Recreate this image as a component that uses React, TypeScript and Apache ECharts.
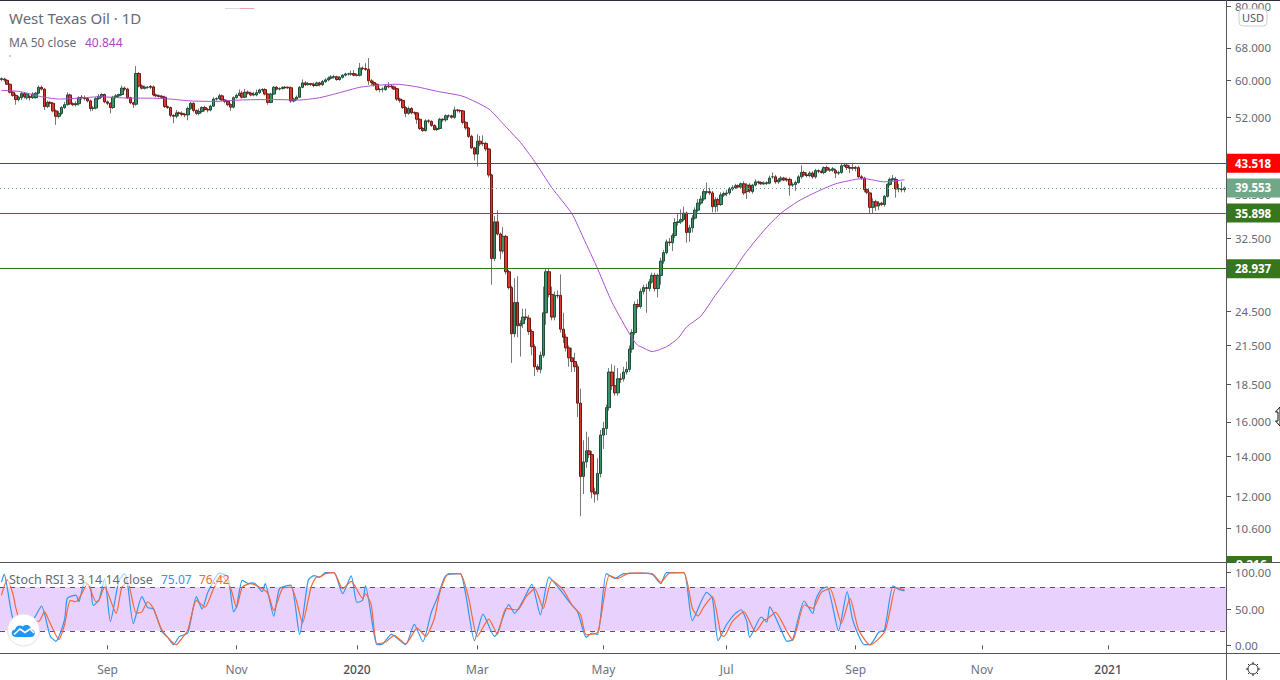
import React, { useEffect, useRef } from "react";
import * as echarts from "echarts";

const opens = [
  60.2,60.3,60.0,59.1,57.3,56.6,55.7,56.1,57.0,56.1,
  56.3,56.1,56.1,57.1,58.4,58.0,54.2,55.1,54.9,53.3,
  52.2,52.8,54.0,54.6,56.7,54.8,54.6,54.8,56.2,56.1,
  55.9,55.4,53.8,53.9,55.9,56.4,56.8,55.2,54.9,54.0,
  56.2,56.5,56.8,58.2,58.0,56.1,55.0,54.7,61.6,58.7,
  58.2,58.4,58.6,58.5,56.7,56.5,56.4,56.2,54.2,54.0,
  52.4,52.2,52.9,52.8,52.6,52.5,53.8,54.9,53.4,52.8,
  53.2,54.0,53.6,53.5,54.3,55.8,55.9,56.5,55.6,55.3,
  54.6,54.1,56.1,56.6,57.1,56.2,57.3,57.1,56.7,56.7,
  57.2,57.8,57.9,56.9,55.1,56.9,58.4,58.0,58.1,58.4,
  58.4,58.3,55.4,55.8,56.2,58.4,59.4,59.0,59.2,59.1,
  58.8,59.4,59.0,59.7,60.1,60.5,60.8,60.8,60.2,60.7,
  61.2,61.5,61.5,61.6,61.2,61.2,62.9,62.8,62.6,59.9,
  59.5,59.1,57.9,58.0,57.9,58.7,58.7,58.5,58.1,55.8,
  55.5,54.0,52.8,53.8,53.0,52.9,51.6,49.8,49.4,51.3,
  51.2,50.4,49.6,49.8,51.6,51.5,52.3,52.3,52.0,53.5,
  53.4,53.3,51.0,49.9,48.3,46.2,45.1,47.4,47.0,47.0,
  46.0,41.6,30.1,34.7,33.1,31.0,32.8,28.6,26.9,22.5,
  25.4,23.2,23.4,24.0,23.9,22.7,21.4,19.8,19.6,20.7,
  24.4,28.6,26.2,24.0,26.1,26.1,22.9,22.2,21.3,20.5,
  20.2,19.8,17.2,12.95,13.7,14.3,14.1,12.2,12.1,13.1,
  15.2,15.6,16.9,19.4,18.4,17.9,18.9,18.9,19.4,19.6,
  21.2,22.6,25.2,25.0,26.5,26.9,26.8,27.5,28.2,26.8,
  28.2,29.8,30.8,32.1,32.0,32.9,34.6,34.7,35.0,35.9,
  33.3,33.9,35.2,36.3,37.3,37.9,38.9,39.0,38.8,36.8,
  37.8,37.1,38.5,38.7,38.8,39.4,39.6,39.9,39.7,40.2,
  39.0,40.0,39.0,40.0,40.5,40.4,40.2,40.3,40.3,41.3,
  41.3,40.5,40.8,41.1,40.9,40.9,40.0,40.1,40.4,41.3,
  42.0,41.6,41.5,41.9,41.3,42.3,42.2,42.0,42.8,42.4,
  42.4,42.3,41.9,42.0,43.1,43.2,42.8,42.7,42.8,42.8,
  41.3,41.1,39.3,38.8,36.7,37.5,36.9,37.3,37.1,38.3,
  40.1,40.9,40.9,39.4,39.4,39.3,
];
const closes = [
  60.4,60.1,59.1,57.3,56.6,55.7,56.2,57.0,56.3,56.9,
  56.2,56.9,57.1,58.4,58.0,54.2,55.1,54.9,53.3,52.2,
  52.8,54.0,54.6,56.7,54.8,54.6,54.8,56.1,56.1,55.9,
  55.4,53.8,53.9,55.9,56.4,56.8,55.2,54.9,54.0,56.2,
  56.5,56.8,58.2,58.0,56.1,55.0,54.7,61.6,58.7,58.2,
  58.4,58.4,58.4,56.7,56.5,56.4,56.2,54.2,54.0,52.4,
  52.2,52.9,52.8,52.6,52.5,53.8,54.9,53.4,52.8,53.2,
  54.0,53.6,53.5,54.3,55.8,55.9,56.5,55.6,55.3,54.6,
  54.1,56.1,56.6,57.1,56.2,57.3,57.1,56.7,56.9,57.2,
  57.8,57.9,56.9,55.1,56.9,58.4,58.0,58.1,58.4,58.3,
  58.3,55.4,55.8,56.2,58.4,59.4,59.0,59.2,59.1,58.8,
  59.4,59.0,59.7,60.1,60.5,60.8,60.8,60.2,60.7,61.2,
  61.5,61.5,61.5,61.2,61.2,62.9,62.8,62.6,59.9,59.5,
  59.1,57.9,57.9,58.0,58.7,58.5,58.5,58.0,55.8,55.5,
  54.0,52.8,53.8,52.9,52.9,51.6,49.8,49.4,51.3,51.2,
  50.4,49.6,49.8,51.6,51.5,52.3,52.3,52.0,53.5,53.4,
  53.3,51.0,49.9,48.3,46.2,45.1,47.4,46.9,47.0,46.0,
  41.6,30.1,34.7,33.1,31.0,32.8,28.6,26.9,22.5,25.4,
  23.2,23.4,24.0,23.95,22.7,21.4,19.8,19.6,20.7,24.4,
  28.6,26.2,24.0,26.1,26.05,22.9,22.2,21.3,20.5,20.2,
  19.8,17.2,12.95,13.7,14.3,14.1,12.2,12.1,13.1,15.2,
  15.6,16.9,19.4,18.4,17.9,18.9,18.85,19.4,19.6,21.2,
  22.6,25.2,25.0,26.5,26.9,26.8,27.5,28.2,26.8,28.2,
  29.8,30.8,32.1,32.0,32.9,34.6,34.7,35.0,35.9,33.3,
  33.9,35.2,36.3,37.3,37.9,39.0,39.0,38.8,36.8,37.8,
  37.1,38.5,38.7,38.8,39.4,39.6,39.9,39.7,40.2,38.8,
  40.0,39.1,40.0,40.5,40.4,40.2,40.3,40.35,41.1,41.3,
  40.5,40.8,41.1,40.8,40.8,40.0,40.1,40.4,41.3,42.0,
  41.6,41.5,41.9,41.3,42.3,42.2,42.0,42.8,42.4,42.4,
  42.6,41.9,42.0,43.1,43.2,42.8,42.7,42.8,42.7,41.3,
  41.1,39.3,38.9,36.7,37.5,36.9,37.3,37.1,38.3,40.1,
  40.9,41.0,39.4,39.45,39.3,39.553,
];
const lows = [
  59.8,59.7,58.9,57.0,56.3,54.6,55.3,55.6,55.9,55.7,
  55.5,55.8,55.9,56.9,57.7,53.5,53.9,54.1,53.0,50.5,
  51.8,52.5,53.7,54.4,54.5,54.3,54.2,54.4,55.7,55.5,
  55.1,53.2,53.3,53.6,55.6,56.0,54.9,54.5,52.8,53.7,
  55.9,56.2,56.5,57.6,55.8,54.7,53.9,54.4,58.4,57.9,
  57.9,58.1,58.0,56.4,56.2,56.1,55.9,53.9,53.7,52.0,
  50.8,51.8,52.2,52.2,52.0,51.4,53.5,53.0,52.5,52.4,
  52.9,53.2,53.0,53.2,54.1,55.5,55.6,55.4,54.9,54.3,
  53.3,53.8,55.9,56.4,55.9,56.0,56.8,56.4,56.4,56.4,
  56.9,57.4,56.6,54.6,54.9,56.7,57.7,57.7,57.9,58.0,
  58.0,55.0,55.1,55.5,56.0,58.2,58.7,58.8,58.7,58.4,
  58.6,58.6,58.7,59.4,59.8,60.2,60.4,59.9,59.9,60.4,
  60.9,61.1,61.1,60.9,60.9,60.9,62.4,62.2,59.0,58.9,
  58.6,57.6,57.3,57.3,57.6,58.2,58.1,57.8,55.4,55.0,
  53.7,52.0,52.5,52.6,52.5,50.7,49.5,49.1,49.2,50.8,
  50.1,49.4,49.3,49.6,51.1,51.1,51.9,51.7,51.7,53.0,
  52.9,50.6,49.5,48.0,46.0,44.0,43.0,46.5,46.5,45.6,
  41.2,27.2,29.8,32.9,30.0,30.7,28.3,26.7,20.1,22.2,
  22.2,20.6,23.0,23.7,22.4,20.7,19.1,19.4,19.3,20.5,
  23.3,25.9,23.7,23.7,25.8,22.6,21.7,21.0,19.8,19.4,
  19.4,16.3,11.1,12.1,13.4,13.9,11.9,11.7,11.8,12.9,
  14.4,15.2,16.7,18.1,17.7,17.7,18.6,18.7,19.2,19.4,
  20.9,22.4,24.8,24.8,26.2,24.4,26.5,27.3,26.5,25.9,
  27.2,29.5,30.6,31.6,31.0,32.6,34.2,34.4,34.8,32.0,
  32.1,33.3,35.0,36.0,37.0,37.6,38.6,38.5,36.0,36.0,
  36.1,36.9,38.2,38.3,38.5,39.1,39.4,39.5,39.4,38.5,
  37.9,38.8,38.7,39.8,40.1,40.0,40.0,40.0,40.1,41.0,
  40.2,40.2,40.5,40.6,40.5,38.4,39.7,39.1,40.2,41.0,
  41.3,41.2,41.2,41.0,41.0,41.9,41.8,41.7,42.1,42.1,
  42.1,41.1,41.6,41.8,42.9,42.4,41.9,42.3,42.2,41.1,
  40.8,38.9,38.6,35.8,35.8,36.2,36.3,36.9,36.8,38.1,
  39.9,40.6,38.1,38.9,38.9,38.9,
];
const highs = [
  60.7,60.6,60.3,59.3,57.5,57.0,56.5,57.4,57.2,57.1,
  56.7,57.3,57.4,58.8,58.8,58.2,55.5,55.4,55.2,53.6,
  53.3,54.3,55.2,57.3,57.0,55.1,55.3,56.4,56.7,56.6,
  56.2,55.7,54.3,56.2,56.9,57.1,57.0,55.5,55.1,56.5,
  56.9,57.0,58.8,58.6,58.3,56.3,55.2,63.4,62.0,59.1,
  58.8,58.7,58.9,58.8,57.0,56.8,56.7,56.5,54.4,54.2,
  52.6,53.5,53.2,53.2,52.9,54.2,55.2,55.1,53.6,53.8,
  54.3,54.4,53.9,54.6,56.2,56.2,57.0,56.8,55.8,55.5,
  54.9,56.4,57.0,57.9,57.6,58.0,57.7,57.4,57.4,57.9,
  58.1,58.2,58.2,57.1,57.2,58.7,58.7,58.4,58.6,58.7,
  58.6,58.6,56.1,56.6,58.7,60.2,59.8,59.6,59.4,59.5,
  59.7,59.7,60.1,60.5,60.9,61.2,61.3,61.1,61.0,61.5,
  61.8,61.8,62.3,62.4,61.6,64.2,63.3,64.1,65.4,60.3,
  59.9,59.3,58.3,58.4,59.0,59.6,59.1,58.8,58.3,56.1,
  55.7,54.3,54.2,54.1,53.2,53.1,51.8,50.1,51.6,51.6,
  51.4,50.6,50.2,51.9,51.8,52.6,52.6,52.5,54.2,53.7,
  53.6,53.5,51.2,50.1,48.6,46.4,48.7,48.4,48.5,47.3,
  46.2,41.8,35.5,36.3,33.3,34.0,33.0,28.8,27.1,27.9,
  28.1,23.7,24.8,24.8,24.2,22.9,21.6,20.0,21.0,27.0,
  29.0,28.9,27.0,26.5,26.6,28.3,24.4,22.5,21.5,21.3,
  20.9,20.0,18.2,14.9,15.4,15.1,14.3,12.4,13.9,15.5,
  16.0,17.1,19.7,20.0,19.9,19.7,19.3,19.8,20.2,21.5,
  22.9,25.5,25.7,26.8,27.2,27.3,27.8,28.5,28.5,28.4,
  30.2,31.1,32.4,32.6,33.2,35.2,35.9,36.4,36.8,36.1,
  34.3,35.6,36.7,37.9,38.4,39.4,40.4,39.6,39.1,38.2,
  38.1,38.9,39.0,39.3,39.7,40.0,40.2,40.1,40.4,40.6,
  40.3,40.3,40.2,40.9,40.7,40.6,40.6,40.6,41.5,42.0,
  41.6,41.1,41.4,41.3,41.2,41.2,40.4,40.7,41.6,43.2,
  42.3,42.0,42.2,42.2,42.6,42.5,42.5,43.0,43.1,42.8,
  42.9,42.6,42.3,43.5,43.6,43.5,43.2,43.6,43.1,43.1,
  41.6,41.3,39.5,39.0,38.0,37.8,37.6,37.5,38.5,40.3,
  41.2,41.6,41.3,40.2,40.5,39.8,
];

const maBars = [0,6,14,20,27,34,45,52,59,66,74,83,94,104,111,118,125,131,138,145,152,161,170,175,181,186,192,199,203,208,213,220,222,223,227,232,236,239,244,249,256,259,264,268,272,278,285,291,298,301,308,315];
const maValues = [57.7,57.5,56.3,55.8,56.0,56.3,56.0,56.0,55.8,55.4,55.3,55.6,55.7,55.6,56.1,57.2,58.4,58.85,59.1,58.5,57.5,56.4,53.7,50.7,47.2,43.8,39.6,35.8,32.6,28.9,25.4,22.1,21.5,21.4,21.0,21.4,22.1,23.1,24.1,26.1,29.0,30.5,32.7,34.4,35.9,37.6,39.1,40.2,40.9,41.0,40.5,40.844];

const kBars = [0,1,2,4,7,11,14,17,19,22,23,26,27,29,31,32,34,36,38,41,43,44,46,49,51,53,56,58,60,62,65,68,70,72,76,79,81,82,84,86,88,91,92,95,97,101,104,107,109,111,113,116,119,122,124,126,127,130,131,133,136,141,144,147,150,152,155,160,162,165,168,172,173,177,179,182,185,188,191,195,198,201,204,206,208,211,214,217,223,227,230,232,238,241,246,248,250,253,256,258,260,261,265,267,268,272,274,276,280,283,284,286,288,292,295,297,301,303,306,308,311,313,315];
const kValues = [87,98,80,37,25,35,54,13,5.5,35,65,69,60,87,80,55,62,92,33,89,98.6,85,30,67,52,50,19,11,1,12,17,67,50,73,99.5,94,46,53,89.5,85,86,74,85,40,78,83,15,89.5,96,94,100,100,71,95.5,59,62,82,15,1,2,15,1,29,5,46,65,96,98.6,69,6.5,43,12,17,56,44,62,84,42,94,76,60,46,11,17,15,98.6,92,98.6,99.5,97.7,85,100,100,34,73,65,6.5,29,44,49,33,11,39,32,53,21,5.6,8,61,44,62,77,80.5,20,74,34,1,1,18,21,82,77,75.07];

const dBars = [0,2,4,6,13,15,17,20,22,24,26,28,30,33,34,36,40,42,44,47,49,51,53,56,61,63,65,68,71,74,77,80,82,84,87,91,93,95,98,101,103,105,108,110,111,113,116,119,122,126,127,129,131,134,137,141,145,148,151,153,156,160,163,166,170,173,176,180,183,186,189,192,196,199,202,204,208,212,215,219,223,227,230,233,238,241,243,245,248,251,252,255,259,263,266,267,270,274,276,280,283,286,289,293,296,299,303,308,310,312,315];
const dValues = [69,90,71,40,33,46,30.5,8,28,62,60,71,85,60,62,80,44,80,87,44,46,60,51,21,1,10,21,62,52.5,78,95,78,52,80,85,78,71,48,78,80,60,30.5,80,94,94,98.6,100,78,88,64.6,71,55.5,2,4.7,13.7,2,23.7,12.4,37,74,98.6,98.6,64.6,12.4,36,15.5,51,48.7,67,78,51,89.6,76,55.5,42,14.6,18,96.4,92,99.5,99.5,98.6,87,99.5,100,51,40.5,53,67,14.6,12.4,33,46,19,35,36,45.5,19,7,55.5,51,73,78,30.5,64.6,21.4,0.5,18,48.7,79.6,76.42];

const priceTicks = [80, 68, 60, 52, 44, 38.5, 32.5, 28.5, 24.5, 21.5, 18.5, 16, 14, 12, 10.6];
const rsiTicks = [0, 50, 100];
const levels = [43.518, 35.898, 28.937];
const levelColors = ["#e01010", "#38761d", "#38761d"];
const levelBoxes = ["#ff0000", "#38761d", "#38761d"];
const lastPrice = 39.553;
const timeTickBars = [37, 82, 124, 166, 210, 253, 298, 342, 386];
const timeTickLabels = ["Sep", "Nov", "2020", "Mar", "May", "Jul", "Sep", "Nov", "2021"];
const barSlots = 428;

const FONT = "'Noto Sans', sans-serif";

echarts.graphic.registerShape(
  "tvcloud",
  echarts.graphic.extendPath(
    "M16 637 C11 637 10 630 15 629.5 C16 625.5 20 624.5 23 626.5 C26 623.5 31 625.5 31 629.5 C36 629.5 36 637 31 637 Z",
    {}
  )
);

export default function App() {
  const ref = useRef<HTMLDivElement>(null);
  useEffect(() => {
    document.body.style.margin = "0";
    const chart = echarts.init(ref.current!, null, { renderer: "svg", width: 1280, height: 680 });
    const categories = Array.from({ length: barSlots }, (_, i) => String(i));
    const wickData = opens.map((o, i) => [o, closes[i], lows[i], highs[i]]);
    const bodyData = opens.map((o, i) => [o, closes[i], Math.min(o, closes[i]), Math.max(o, closes[i])]);
    const isTimeTick = (i: number) => timeTickBars.includes(i);
    const levelLines = levels.map((v, i) => ({
      yAxis: v,
      lineStyle: { color: levelColors[i], width: 1, type: "solid" },
      label: { backgroundColor: levelBoxes[i] },
    }));
    const line = (x1: number, y1: number, x2: number, y2: number, stroke: string, width = 1, z = 60) => ({
      type: "line",
      shape: { x1, y1, x2, y2 },
      style: { stroke, lineWidth: width },
      z,
      silent: true,
    });
    const gearRays = [
      [1253, 662, 1253, 664], [1253, 674, 1253, 676], [1246, 669, 1248, 669], [1258, 669, 1260, 669],
      [1248, 664, 1249.5, 665.5], [1256.5, 672.5, 1258, 674], [1258, 664, 1256.5, 665.5], [1249.5, 672.5, 1248, 674],
    ];
    const option: any = {
      animation: false,
      backgroundColor: "#ffffff",
      textStyle: { fontFamily: FONT },
      grid: [
        { left: 0, top: 1, width: 1227, height: 561, containLabel: false },
        { left: 0, top: 563, width: 1227, height: 90, containLabel: false },
      ],
      xAxis: [
        {
          type: "category",
          gridIndex: 0,
          data: categories,
          boundaryGap: true,
          axisLine: { show: false },
          axisTick: { show: false },
          axisLabel: { show: false },
          splitLine: { show: false },
        },
        {
          type: "category",
          gridIndex: 1,
          data: categories,
          boundaryGap: true,
          axisLine: { show: false },
          axisTick: {
            show: true,
            length: 4,
            alignWithLabel: true,
            interval: (i: number) => isTimeTick(i),
            lineStyle: { color: "#555" },
          },
          axisLabel: {
            show: true,
            margin: 10,
            hideOverlap: false,
            interval: (i: number) => isTimeTick(i),
            formatter: (v: string) => {
              const label = timeTickLabels[timeTickBars.indexOf(Number(v))];
              return label.startsWith("20") ? `{y|${label}}` : `{m|${label}}`;
            },
            rich: {
              y: { color: "#4a4e58", fontSize: 12, fontFamily: FONT, fontWeight: 500 },
              m: { color: "#6e727c", fontSize: 12, fontFamily: FONT },
            },
          },
          splitLine: { show: false },
        },
      ],
      yAxis: [
        {
          type: "log",
          logBase: Math.E,
          gridIndex: 0,
          position: "right",
          min: 9.3,
          max: 81.5,
          axisLine: { show: false },
          axisTick: { show: true, length: 4, customValues: priceTicks, lineStyle: { color: "#555" } },
          axisLabel: {
            show: true,
            margin: 8,
            customValues: priceTicks,
            color: "#666a74",
            fontSize: 11.5,
            fontFamily: FONT,
            hideOverlap: false,
            formatter: (v: number) => Number(v).toFixed(3),
          },
          splitLine: { show: false },
          minorSplitLine: { show: false },
        },
        {
          type: "value",
          gridIndex: 1,
          position: "right",
          min: -10.5,
          max: 113.3,
          axisLine: { show: false },
          axisTick: { show: true, length: 4, customValues: rsiTicks, lineStyle: { color: "#555" } },
          axisLabel: {
            show: true,
            margin: 8,
            customValues: rsiTicks,
            color: "#666a74",
            fontSize: 11.5,
            fontFamily: FONT,
            hideOverlap: false,
            formatter: (v: number) => Number(v).toFixed(2),
          },
          splitLine: { show: false },
        },
      ],
      series: [
        {
          type: "candlestick",
          name: "wicks",
          xAxisIndex: 0,
          yAxisIndex: 0,
          data: wickData,
          barWidth: 1,
          itemStyle: { color: "#787878", color0: "#787878", borderColor: "#787878", borderColor0: "#787878", borderWidth: 1 },
          silent: true,
          z: 2,
        },
        {
          type: "candlestick",
          name: "West Texas Oil",
          xAxisIndex: 0,
          yAxisIndex: 0,
          data: bodyData,
          barWidth: 3,
          itemStyle: { color: "#3e8f6b", color0: "#d83a2d", borderColor: "#1d4f37", borderColor0: "#6e1a14", borderWidth: 1 },
          silent: true,
          z: 3,
          markLine: {
            silent: true,
            symbol: "none",
            animation: false,
            precision: 3,
            z: 8,
            label: {
              show: true,
              position: "end",
              distance: 0,
              color: "#ffffff",
              fontSize: 11.5,
              fontWeight: "bold",
              fontFamily: FONT,
              padding: [3, 8, 3, 8],
              lineHeight: 13,
              width: 37,
              formatter: (p: any) => Number(p.value).toFixed(3),
            },
            data: [
              ...levelLines,
              {
                yAxis: lastPrice,
                lineStyle: { color: "#6ca584", width: 1, type: [1, 3] },
                label: { backgroundColor: "#6fa886" },
              },
            ],
          },
        },
        {
          type: "line",
          name: "MA 50 close",
          xAxisIndex: 0,
          yAxisIndex: 0,
          data: maBars.map((b, i) => [b, maValues[i]]),
          showSymbol: false,
          smooth: 0.2,
          lineStyle: { color: "#ad4fcf", width: 1 },
          silent: true,
          z: 5,
        },
        {
          type: "line",
          name: "K",
          xAxisIndex: 1,
          yAxisIndex: 1,
          data: kBars.map((b, i) => [b, kValues[i]]),
          showSymbol: false,
          smooth: 0.2,
          lineStyle: { color: "#2f97f3", width: 1.2 },
          silent: true,
          z: 5,
          markArea: {
            silent: true,
            itemStyle: { color: "#e9d1fd" },
            data: [[{ yAxis: 20 }, { yAxis: 80 }]],
          },
          markLine: {
            silent: true,
            symbol: "none",
            label: { show: false },
            lineStyle: { color: "#5f4b6e", width: 1, type: [5, 5] },
            data: [{ yAxis: 80 }, { yAxis: 20 }],
          },
        },
        {
          type: "line",
          name: "D",
          xAxisIndex: 1,
          yAxisIndex: 1,
          data: dBars.map((b, i) => [b, dValues[i]]),
          showSymbol: false,
          smooth: 0.2,
          lineStyle: { color: "#f4683a", width: 1.2 },
          silent: true,
          z: 6,
        },
      ],
      graphic: [
        line(0, 0.5, 1280, 0.5, "#2a2e39", 1),
        line(0, 562.5, 1280, 562.5, "#555", 1),
        line(0, 653.5, 1280, 653.5, "#555", 1),
        line(1226.5, 0, 1226.5, 680, "#555", 1, 70),
        { type: "rect", shape: { x: 1227, y: 556, width: 45, height: 6 }, style: { fill: "#38761d" }, z: 60, silent: true },
        { type: "text", x: 1236, y: 558, style: { text: "9.216", fill: "#fff", font: `bold 12px ${FONT}` }, z: 61, silent: true },
        { type: "rect", shape: { x: 1227, y: 563, width: 53, height: 4 }, style: { fill: "#fff" }, z: 62, silent: true },
        { type: "rect", shape: { x: 1239, y: 9, width: 28, height: 17, r: 4 }, style: { fill: "#fff", stroke: "#cfcfcf", lineWidth: 1 }, z: 90, silent: true },
        { type: "text", x: 1253, y: 17.5, style: { text: "USD", fill: "#555", font: `11px ${FONT}`, align: "center", verticalAlign: "middle" }, z: 91, silent: true },

        { type: "text", x: 9, y: 18, style: { text: "West Texas Oil · 1D", fill: "#666a74", font: `15px ${FONT}`, verticalAlign: "middle" }, z: 80, silent: true },
        { type: "text", x: 9, y: 42, style: { text: "MA 50 close", fill: "#666a74", font: `12px ${FONT}`, verticalAlign: "middle" }, z: 80, silent: true },
        { type: "text", x: 85, y: 42, style: { text: "40.844", fill: "#ab47bc", font: `12px ${FONT}`, verticalAlign: "middle" }, z: 80, silent: true },
        { type: "rect", shape: { x: 225, y: 8, width: 15, height: 1 }, style: { fill: "#d8d8e0" }, z: 80, silent: true },
        { type: "rect", shape: { x: 240, y: 8, width: 14, height: 1 }, style: { fill: "#eea0c0" }, z: 80, silent: true },
        { type: "rect", shape: { x: 9, y: 55, width: 2, height: 2 }, style: { fill: "#d0d0d0" }, z: 80, silent: true },

        { type: "rect", shape: { x: 8, y: 572, width: 224, height: 14 }, style: { fill: "rgba(255,255,255,0.6)" }, z: 79, silent: true },
        { type: "text", x: 9, y: 579.5, style: { text: "Stoch RSI 3 3 14 14 close", fill: "#666a74", font: `12.5px ${FONT}`, verticalAlign: "middle" }, z: 80, silent: true },
        { type: "text", x: 161, y: 579.5, style: { text: "75.07", fill: "#2f97f3", font: `12px ${FONT}`, verticalAlign: "middle" }, z: 80, silent: true },
        { type: "text", x: 199, y: 579.5, style: { text: "76.42", fill: "#f4683a", font: `12px ${FONT}`, verticalAlign: "middle" }, z: 80, silent: true },

        { type: "circle", shape: { cx: 23.5, cy: 630, r: 16 }, style: { fill: "#fff", stroke: "#e5dcec", lineWidth: 1 }, z: 85, silent: true },
        { type: "tvcloud", x: 0, y: 0, style: { fill: "#2196f3" }, z: 86, silent: true },
        { type: "polyline", shape: { points: [[14, 634.5], [20, 629], [25, 632.5], [30, 629], [34, 633]] }, style: { stroke: "#fff", fill: "none", lineWidth: 1.6 }, z: 87, silent: true },

        { type: "circle", shape: { cx: 1253, cy: 669, r: 5 }, style: { fill: "none", stroke: "#222", lineWidth: 1 }, z: 80, silent: true },
        ...gearRays.map((r) => line(r[0], r[1], r[2], r[3], "#222", 1, 80)),
        { type: "polygon", shape: { points: [[1280, 407], [1275.5, 412], [1278, 412], [1278, 421], [1275.5, 421], [1280, 426]] }, style: { fill: "#fff", stroke: "#111", lineWidth: 1 }, z: 90, silent: true },
      ],
    };
    chart.setOption(option);
    return () => chart.dispose();
  }, []);
  return <div ref={ref} style={{ position: "fixed", left: 0, top: 0, width: 1280, height: 680 }} />;
}
